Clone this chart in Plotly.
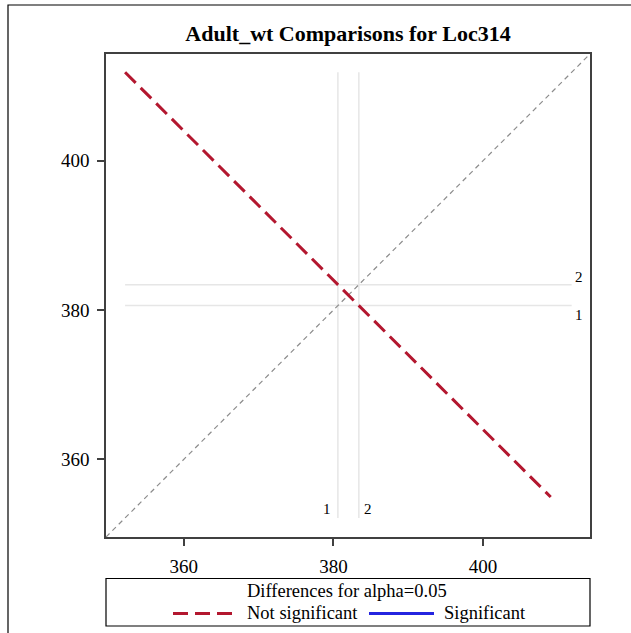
import plotly.graph_objects as go

# ---- data ----
levels = ["1", "2"]
lsmeans = [380.6, 383.4]          # LS-means of Loc314 levels
diff_halfwidth = 56.9             # CI half-width of the difference (alpha=0.05)
axis_range = [349.6, 414.3]
tick_vals = [360, 380, 400]
title_text = "Adult_wt Comparisons for Loc314"

m1, m2 = lsmeans
hw2 = diff_halfwidth / 2.0
seg_x = [m1 - hw2, m1 + hw2]
seg_y = [m2 + hw2, m2 - hw2]
ref_lo = min(seg_x + seg_y)
ref_hi = max(seg_x + seg_y)

FONT = "Liberation Serif, Times New Roman, serif"
RED = "#B3172F"
BLUE = "#2424E0"
REF = "#E6E6E6"
AX = "#404040"

fig = go.Figure()

# reference lines at the LS-means
for lv, m in zip(levels, lsmeans):
    fig.add_trace(go.Scatter(x=[m, m], y=[ref_lo, ref_hi], mode="lines",
                             line=dict(color=REF, width=1.5), showlegend=False, hoverinfo="skip"))
    fig.add_trace(go.Scatter(x=[ref_lo, ref_hi], y=[m, m], mode="lines",
                             line=dict(color=REF, width=1.5), showlegend=False, hoverinfo="skip"))

# diagonal
fig.add_trace(go.Scatter(x=axis_range, y=axis_range, mode="lines",
                         line=dict(color="#8C8C8C", width=1.2, dash="5px,4px"),
                         showlegend=False, hoverinfo="skip"))

# comparison segment (not significant)
fig.add_trace(go.Scatter(x=seg_x, y=seg_y, mode="lines", name="Not significant",
                         line=dict(color=RED, width=3, dash="15px,7px"), showlegend=False))

LBL = dict(family=FONT, size=15, color="black")
ann = []
ann.append(dict(x=lsmeans[0], y=ref_lo, xref="x", yref="y", text=levels[0], showarrow=False,
                xanchor="right", yanchor="middle", xshift=-5, yshift=9, font=LBL))
ann.append(dict(x=lsmeans[1], y=ref_lo, xref="x", yref="y", text=levels[1], showarrow=False,
                xanchor="left", yanchor="middle", xshift=3, yshift=9, font=LBL))
ann.append(dict(x=ref_hi, y=lsmeans[1], xref="x", yref="y", text=levels[1], showarrow=False,
                xanchor="left", yanchor="middle", xshift=1, yshift=8, font=LBL))
ann.append(dict(x=ref_hi, y=lsmeans[0], xref="x", yref="y", text=levels[0], showarrow=False,
                xanchor="left", yanchor="middle", xshift=1, yshift=-9, font=LBL))

# legend (drawn manually below the plot)
W, H = 631, 633
L, R, T, B = 106, 41, 54, 96
pw, ph = W - L - R, H - T - B
def px(xp):
    return (xp - L) / pw
def py(yp):
    return (H - B - yp) / ph

shapes = []
shapes.append(dict(type="rect", xref="paper", yref="paper", x0=px(106), x1=px(590),
                   y0=py(626), y1=py(578.5), line=dict(color="black", width=1.2), fillcolor="rgba(0,0,0,0)"))
shapes.append(dict(type="line", xref="paper", yref="paper", x0=px(173), x1=px(236),
                   y0=py(613.5), y1=py(613.5), line=dict(color=RED, width=3, dash="15px,7px")))
shapes.append(dict(type="line", xref="paper", yref="paper", x0=px(369), x1=px(434),
                   y0=py(613.5), y1=py(613.5), line=dict(color=BLUE, width=3)))
# outer border
shapes.append(dict(type="rect", xref="paper", yref="paper", x0=px(8), x1=px(700),
                   y0=py(700), y1=py(5), line=dict(color="black", width=1.2), fillcolor="rgba(0,0,0,0)"))

LEG = dict(family=FONT, size=18.5, color="black")
ann.append(dict(x=px(347), y=py(591), xref="paper", yref="paper", text="Differences for alpha=0.05",
                showarrow=False, xanchor="center", yanchor="middle", font=LEG))
ann.append(dict(x=px(245), y=py(613), xref="paper", yref="paper", text="Not significant",
                showarrow=False, xanchor="left", yanchor="middle", font=LEG))
ann.append(dict(x=px(442), y=py(613), xref="paper", yref="paper", text="Significant",
                showarrow=False, xanchor="left", yanchor="middle", font=LEG))

axis_common = dict(range=axis_range, tickvals=tick_vals, showgrid=False, zeroline=False,
                   showline=True, mirror=True, linecolor=AX, linewidth=1.5,
                   ticks="outside", ticklen=7, tickwidth=1.5, tickcolor=AX,
                   tickfont=dict(family=FONT, size=19, color="black"))

fig.update_layout(
    width=W, height=H,
    margin=dict(l=L, r=R, t=T, b=B),
    paper_bgcolor="white", plot_bgcolor="white",
    title=dict(text="<b>" + title_text + "</b>", x=(348) / W, xanchor="center",
               y=1 - 33 / H, yanchor="middle",
               font=dict(family=FONT, size=22, color="black")),
    xaxis=dict(axis_common, ticklabelstandoff=4),
    yaxis=dict(axis_common, ticklabelstandoff=4),
    shapes=shapes, annotations=ann, showlegend=False,
)

fig.write_html("out.html")
